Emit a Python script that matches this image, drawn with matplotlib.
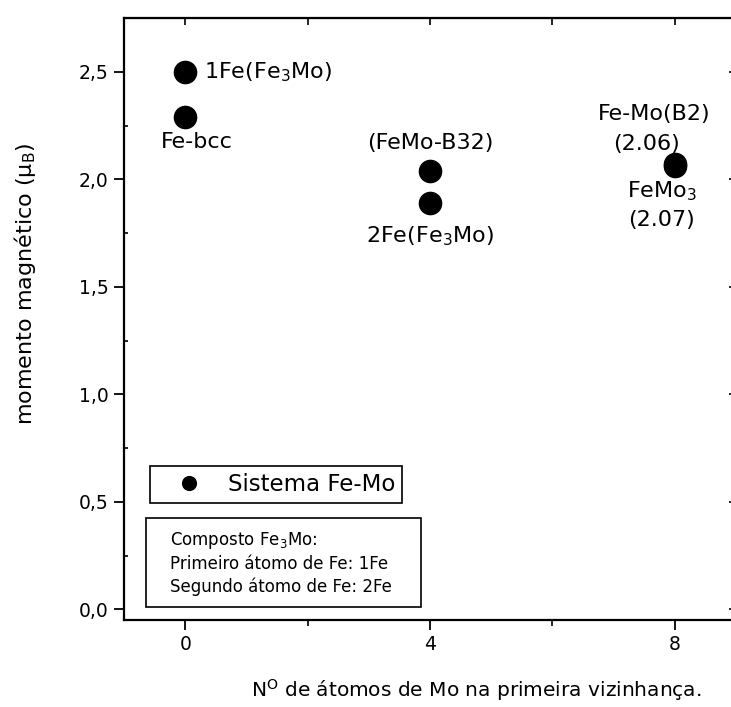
import matplotlib
matplotlib.use("Agg")
import matplotlib.pyplot as plt
from matplotlib.patches import Rectangle
from matplotlib.ticker import FuncFormatter, MultipleLocator

# magnetic moment of Fe vs number of Mo first neighbours
n_mo = [0, 0, 4, 4, 8, 8]
moment = [2.50, 2.29, 2.04, 1.89, 2.06, 2.07]
names = ["1Fe(Fe$_3$Mo)", "Fe-bcc", "(FeMo-B32)", "2Fe(Fe$_3$Mo)", "Fe-Mo(B2)", "FeMo$_3$"]

x_ticks = [0, 4, 8]
y_ticks = [0.0, 0.5, 1.0, 1.5, 2.0, 2.5]

note_lines = ["Composto Fe$_3$Mo:", "Primeiro átomo de Fe: 1Fe", "Segundo átomo de Fe: 2Fe"]

fig = plt.figure(figsize=(7.31, 7.07), dpi=100)
ax = fig.add_axes([124 / 731, 87 / 707, 612 / 731, 602 / 707])

ax.plot(n_mo, moment, "o", color="black", markersize=16, label="Sistema Fe-Mo")

ax.set_xlim(-1, 9)
ax.set_ylim(-0.05, 2.75)

ax.set_xticks(x_ticks)
ax.xaxis.set_minor_locator(MultipleLocator(2))
ax.set_yticks(y_ticks)
ax.yaxis.set_minor_locator(MultipleLocator(0.25))
ax.yaxis.set_major_formatter(FuncFormatter(lambda v, p: f"{v:.1f}".replace(".", ",")))

ax.tick_params(axis="both", which="major", direction="out", length=7, width=1.3,
               labelsize=13.5, pad=4)
ax.tick_params(axis="x", which="minor", direction="out", length=4, width=1.2)
ax.tick_params(axis="y", which="minor", direction="in", length=3, width=1.2)
for s in ax.spines.values():
    s.set_linewidth(1.6)

# top and right ticks point inward, without labels
top = ax.secondary_xaxis("top")
top.set_xticks([0, 2, 4, 6, 8])
top.tick_params(direction="in", length=5, width=1.2, labeltop=False)
right = ax.secondary_yaxis("right")
right.set_yticks(y_ticks)
right.yaxis.set_minor_locator(MultipleLocator(0.25))
right.tick_params(which="major", direction="in", length=5, width=1.2, labelright=False)
right.tick_params(which="minor", direction="in", length=3, width=1.0)

ax.set_xlabel("N$^{\\mathrm{O}}$ de átomos de Mo na primeira vizinhança.", fontsize=14.5)
ax.xaxis.set_label_coords(0.575, -0.095)
ax.set_ylabel("momento magnético (μ$_\\mathrm{B}$)", fontsize=16)
ax.yaxis.set_label_coords(-0.14, 0.558)

label_style = {
    "1Fe(Fe$_3$Mo)": ((19, 0), "left"),
    "Fe-bcc": ((12, -25), "center"),
    "(FeMo-B32)": ((0, 28), "center"),
    "2Fe(Fe$_3$Mo)": ((0, -33), "center"),
    "Fe-Mo(B2)": ((-21, 52), "center"),
    "FeMo$_3$": ((-13, -27), "center"),
}
for x, y, name in zip(n_mo, moment, names):
    off, ha = label_style[name]
    ax.annotate(name, (x, y), xytext=off, textcoords="offset pixels",
                ha=ha, va="center", fontsize=16)

# values printed under the Fe-Mo(B2) and FeMo3 names
ax.annotate(f"({moment[4]:.2f})", (n_mo[4], moment[4]), xytext=(-28, 22),
            textcoords="offset pixels", ha="center", va="center", fontsize=16)
ax.annotate(f"({moment[5]:.2f})", (n_mo[5], moment[5]), xytext=(-13, -56),
            textcoords="offset pixels", ha="center", va="center", fontsize=16)

leg = ax.legend(loc="upper left", bbox_to_anchor=(0.0425, 0.2558), borderaxespad=0,
                fontsize=16.5, markerscale=0.62, handlelength=2.8, handletextpad=0.3,
                borderpad=0.3, fancybox=False, edgecolor="black", framealpha=1)
leg.get_frame().set_linewidth(1.2)

ax.add_patch(Rectangle((0.036, 0.0216), 0.449, 0.1478, transform=ax.transAxes,
                       fill=False, edgecolor="black", linewidth=1.2))
ax.text(0.075, 0.150, "\n".join(note_lines), transform=ax.transAxes,
        ha="left", va="top", fontsize=12, linespacing=1.3)

fig.savefig("out.png", dpi=100)
